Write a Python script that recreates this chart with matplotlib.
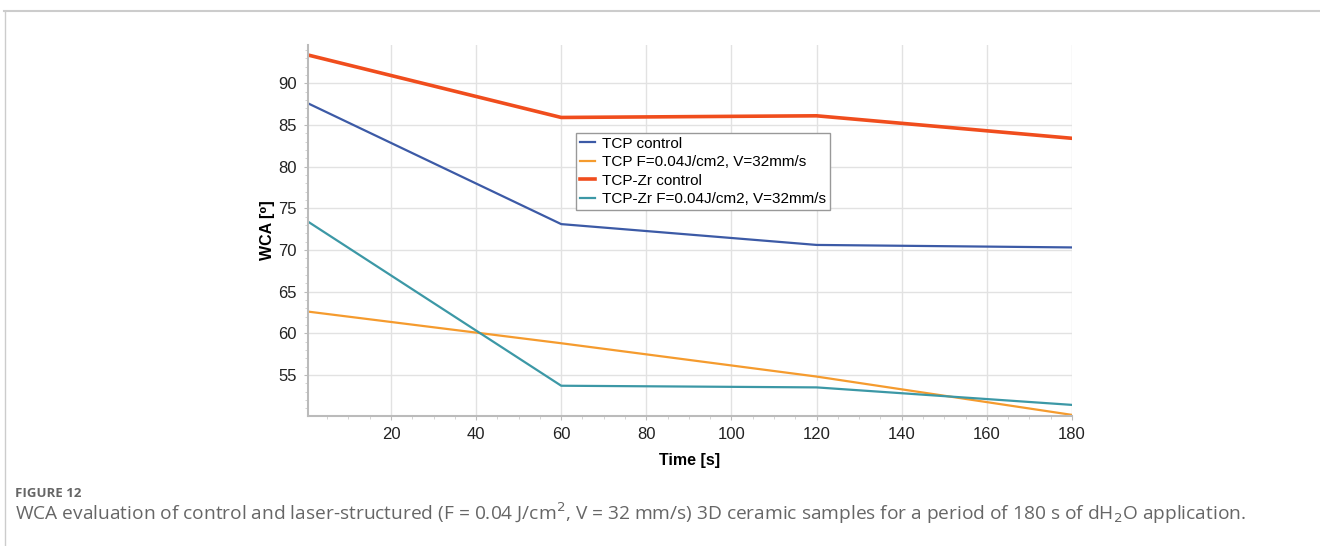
import matplotlib.pyplot as plt
from matplotlib.ticker import MultipleLocator

# Data
time_s = [0.5, 60, 120, 180]
tcp_control = [87.6, 73.1, 70.6, 70.3]
tcp_laser = [62.6, 58.8, 54.8, 50.2]
tcpzr_control = [93.4, 85.9, 86.1, 83.4]
tcpzr_laser = [73.4, 53.7, 53.5, 51.4]

labels = ['TCP control', 'TCP F=0.04J/cm2, V=32mm/s',
          'TCP-Zr control', 'TCP-Zr F=0.04J/cm2, V=32mm/s']

plt.rcParams['font.family'] = ['Liberation Sans', 'DejaVu Sans']

fig = plt.figure(figsize=(13.2, 5.46), dpi=100)

# frame lines of the page
fig.add_artist(plt.Line2D([0.003, 1.0], [0.98, 0.98], color='#cccccc', lw=1.5))
fig.add_artist(plt.Line2D([0.0035, 0.0035], [0.0, 0.98], color='#cccccc', lw=1))

ax = fig.add_axes([0.2333, 0.2386, 0.5788, 0.679])

ax.plot(time_s, tcp_control, color='#3c5aa6', lw=1.6, label=labels[0])
ax.plot(time_s, tcp_laser, color='#f59b2e', lw=1.6, label=labels[1])
ax.plot(time_s, tcpzr_control, color='#f04d1d', lw=2.6, label=labels[2])
ax.plot(time_s, tcpzr_laser, color='#3c98a6', lw=1.6, label=labels[3])

ax.set_xlim(0.5, 180)
ax.set_ylim(50.1, 94.6)
ax.xaxis.set_minor_locator(MultipleLocator(5))
ax.yaxis.set_minor_locator(MultipleLocator(1))
ax.set_xticks([20, 40, 60, 80, 100, 120, 140, 160, 180])
ax.set_yticks([55, 60, 65, 70, 75, 80, 85, 90])

ax.grid(True, which='major', color='#e2e2e2', lw=1)
ax.set_axisbelow(True)
for side in ['top', 'right']:
    ax.spines[side].set_visible(False)
for side in ['left', 'bottom']:
    ax.spines[side].set_color('#bbbbbb')
    ax.spines[side].set_linewidth(1.5)
ax.tick_params(which='major', length=3, color='#bbbbbb', labelsize=12,
               pad=5, labelcolor='#222222')
ax.tick_params(which='minor', length=2, color='#cccccc')

ax.set_xlabel('Time [s]', fontsize=11.5, fontweight='bold', labelpad=8)
ax.set_ylabel('WCA [⁰]', fontsize=11.5, fontweight='bold', labelpad=2)

leg = ax.legend(loc='upper left', bbox_to_anchor=(575.7 / 1320, 1 - 132.7 / 546),
                bbox_transform=fig.transFigure, borderaxespad=0, fontsize=11,
                frameon=True, fancybox=False, edgecolor='#999999',
                handlelength=1.0, handletextpad=0.5, borderpad=0.25,
                labelspacing=0.3, framealpha=1)
leg.get_frame().set_linewidth(1)

fig.text(0.011, 0.09, 'FIGURE 12', fontsize=9.5, color='#666666',
         family='Open Sans', fontweight='bold')
fig.text(0.011, 0.048,
         'WCA evaluation of control and laser-structured (F = 0.04 J/cm$^2$, '
         'V = 32 mm/s) 3D ceramic samples for a period of 180 s of dH$_2$O application.',
         fontsize=13.8, color='#666666', family='Open Sans')

fig.savefig('out.png', dpi=100)
